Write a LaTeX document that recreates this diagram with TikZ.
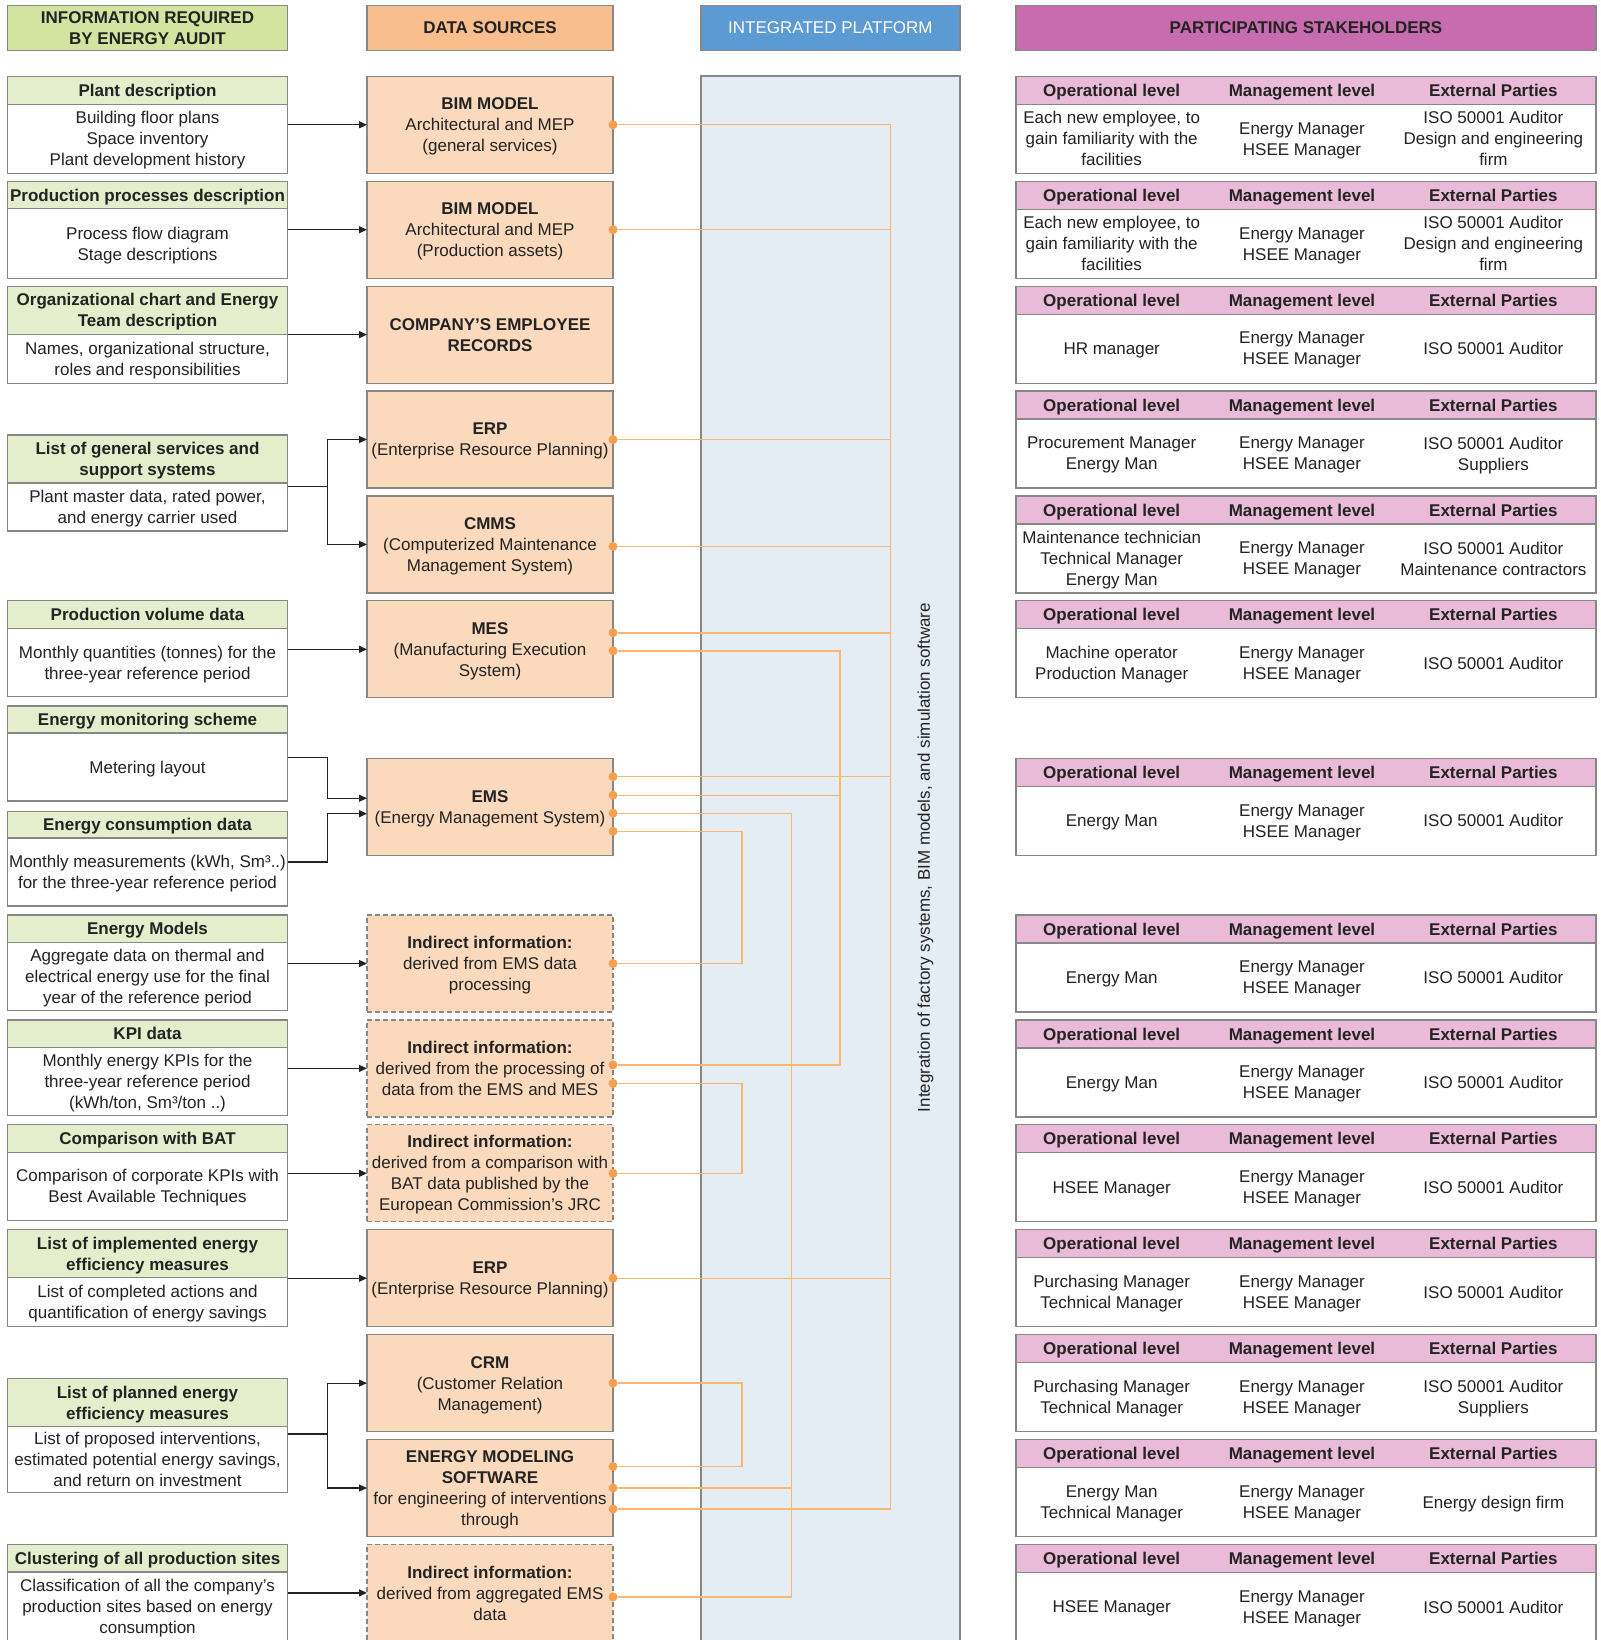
\documentclass[tikz,border=0pt]{standalone}
\usepackage{fontspec}
\setmainfont{Liberation Sans}
\usetikzlibrary{arrows.meta,positioning}

\definecolor{titlegreen}{RGB}{211,228,160}
\definecolor{headgreen}{RGB}{228,238,204}
\definecolor{titleorange}{RGB}{249,190,142}
\definecolor{sourcefill}{RGB}{251,217,188}
\definecolor{titleblue}{RGB}{92,154,212}
\definecolor{panelblue}{RGB}{228,236,244}
\definecolor{titlepink}{RGB}{200,108,176}
\definecolor{headpink}{RGB}{234,187,216}
\definecolor{boxline}{RGB}{135,135,135}
\definecolor{wire}{RGB}{248,182,112}
\definecolor{wiredot}{RGB}{245,160,80}
\definecolor{ink}{RGB}{35,35,35}

\begin{document}
\begin{tikzpicture}[
      x=1pt, y=-1pt,
      node font=\fontsize{17}{21}\selectfont,
      >={Triangle[length=8pt,width=7pt]},
      every node/.style={text=ink, inner sep=0pt, outer sep=0pt},
      flat/.style={text depth=-1.5pt},
      titlebox/.style={flat, draw=boxline, line width=1.2pt, font=\bfseries, align=center, minimum height=45},
      infohead/.style={flat, draw=boxline, line width=1.2pt, fill=headgreen, font=\bfseries, align=center, minimum width=280, anchor=north},
      infobody/.style={flat, draw=boxline, line width=1.2pt, fill=white, align=center, minimum width=280},
      source/.style={flat, draw=boxline, line width=1.2pt, fill=sourcefill, align=center, minimum width=246, minimum height=97},
      indirect/.style={source, dash pattern=on 5pt off 3pt},
      stakebox/.style={draw=boxline, line width=1.2pt, fill=white, minimum width=580, minimum height=97, anchor=north},
      stakehead/.style={draw=boxline, line width=1.2pt, fill=headpink, minimum width=580, minimum height=28, anchor=north},
      colhead/.style={flat, font=\bfseries},
      cell/.style={flat, align=center},
      joint/.style={circle, fill=wiredot, minimum size=9},
      feed/.style={->, line width=1.2pt, draw=ink},
      link/.style={draw=wire, line width=1.4pt},
    ]

    \useasboundingbox (0,0) rectangle (1600,1640);

    \node[titlebox, fill=titlegreen, minimum width=280] (infotitle) at (147.5,27.7) {INFORMATION REQUIRED\\BY ENERGY AUDIT};
    \node[titlebox, fill=titleorange, minimum width=246] (srctitle) at (490,27.7) {DATA SOURCES};
    \node[titlebox, fill=titleblue, minimum width=259, text=white, font=\mdseries] (plattitle) at (830.4,27.7) {INTEGRATED PLATFORM};
    \node[titlebox, fill=titlepink, minimum width=580] (staketitle) at (1306,27.7) {PARTICIPATING STAKEHOLDERS};

    \node[draw=boxline, line width=1.6pt, fill=panelblue, minimum width=259, minimum height=1600, anchor=north] (panel) at (830.4,76.3) {};
    \node[rotate=90] (platlabel) at (925.5,857.5) {Integration of factory systems, BIM models, and simulation software};

    \node[infohead, minimum height=28] (plant) at (147.5,76.3) {Plant description};
    \node[infobody, minimum height=69, below=0pt of plant] (plantbody) {Building floor plans\\Space inventory\\Plant development history};
    \node[infohead, minimum height=27.5] (process) at (147.5,181.2) {Production processes description};
    \node[infobody, minimum height=69.5, below=0pt of process] (processbody) {Process flow diagram\\Stage descriptions};
    \node[infohead, minimum height=48] (org) at (147.5,286.1) {Organizational chart and Energy\\Team description};
    \node[infobody, minimum height=49, below=0pt of org] (orgbody) {Names, organizational structure,\\roles and responsibilities};
    \node[infohead, minimum height=48] (services) at (147.5,435) {List of general services and\\support systems};
    \node[infobody, minimum height=48, below=0pt of services] (servicesbody) {Plant master data, rated power,\\and energy carrier used};
    \node[infohead, minimum height=28] (volume) at (147.5,600.8) {Production volume data};
    \node[infobody, minimum height=68, below=0pt of volume] (volumebody) {Monthly quantities (tonnes) for the\\three-year reference period};
    \node[infohead, minimum height=27] (monitor) at (147.5,706) {Energy monitoring scheme};
    \node[infobody, minimum height=68, below=0pt of monitor] (monitorbody) {Metering layout};
    \node[infohead, minimum height=26.5] (consumption) at (147.5,811.5) {Energy consumption data};
    \node[infobody, minimum height=68, below=0pt of consumption] (consumptionbody) {Monthly measurements (kWh, Sm³..)\\for the three-year reference period};
    \node[infohead, minimum height=27.5] (models) at (147.5,915) {Energy Models};
    \node[infobody, minimum height=68, below=0pt of models] (modelsbody) {Aggregate data on thermal and\\electrical energy use for the final\\year of the reference period};
    \node[infohead, minimum height=27.5] (kpi) at (147.5,1019.9) {KPI data};
    \node[infobody, minimum height=68, below=0pt of kpi] (kpibody) {Monthly energy KPIs for the\\three-year reference period\\(kWh/ton, Sm³/ton ..)};
    \node[infohead, minimum height=27.5] (bat) at (147.5,1124.8) {Comparison with BAT};
    \node[infobody, minimum height=68, below=0pt of bat] (batbody) {Comparison of corporate KPIs with\\Best Available Techniques};
    \node[infohead, minimum height=47.5] (implemented) at (147.5,1229.7) {List of implemented energy\\efficiency measures};
    \node[infobody, minimum height=49, below=0pt of implemented] (implementedbody) {List of completed actions and\\quantification of energy savings};
    \node[infohead, minimum height=48] (planned) at (147.5,1378.4) {List of planned energy\\efficiency measures};
    \node[infobody, minimum height=66, below=0pt of planned] (plannedbody) {List of proposed interventions,\\estimated potential energy savings,\\and return on investment};
    \node[infohead, minimum height=27.5] (cluster) at (147.5,1544.4) {Clustering of all production sites};
    \node[infobody, minimum height=69.5, below=0pt of cluster] (clusterbody) {Classification of all the company's\\production sites based on energy\\consumption};

    \node[source] (bim1) at (490,124.8) {{\bfseries BIM MODEL}\\Architectural and MEP\\(general services)};
    \node[source] (bim2) at (490,229.7) {{\bfseries BIM MODEL}\\Architectural and MEP\\(Production assets)};
    \node[source] (staff) at (490,334.6) {{\bfseries COMPANY'S EMPLOYEE}\\{\bfseries RECORDS}};
    \node[source] (erp1) at (490,439.5) {{\bfseries ERP}\\(Enterprise Resource Planning)};
    \node[source] (cmms) at (490,544.4) {{\bfseries CMMS}\\(Computerized Maintenance\\Management System)};
    \node[source] (mes) at (490,649.3) {{\bfseries MES}\\(Manufacturing Execution\\System)};
    \node[source] (ems) at (490,806.7) {{\bfseries EMS}\\(Energy Management System)};
    \node[indirect] (ind1) at (490,963.5) {{\bfseries Indirect information:}\\derived from EMS data\\processing};
    \node[indirect] (ind2) at (490,1068.4) {{\bfseries Indirect information:}\\derived from the processing of\\data from the EMS and MES};
    \node[indirect] (ind3) at (490,1173.3) {{\bfseries Indirect information:}\\derived from a comparison with\\BAT data published by the\\European Commission's JRC};
    \node[source] (erp2) at (490,1278.2) {{\bfseries ERP}\\(Enterprise Resource Planning)};
    \node[source] (crm) at (490,1383.1) {{\bfseries CRM}\\(Customer Relation\\Management)};
    \node[source] (emsw) at (490,1488) {{\bfseries ENERGY MODELING}\\{\bfseries SOFTWARE}\\for engineering of interventions\\through};
    \node[indirect] (ind4) at (490,1592.9) {{\bfseries Indirect information:}\\derived from aggregated EMS\\data};

    \foreach \ty/\op/\ext [count=\i] in {
        76.3/{Each new employee, to\\gain familiarity with the\\facilities}/{ISO 50001 Auditor\\Design and engineering\\firm},
        181.2/{Each new employee, to\\gain familiarity with the\\facilities}/{ISO 50001 Auditor\\Design and engineering\\firm},
        286.1/{HR manager}/{ISO 50001 Auditor},
        391/{Procurement Manager\\Energy Man}/{ISO 50001 Auditor\\Suppliers},
        495.9/{Maintenance technician\\Technical Manager\\Energy Man}/{ISO 50001 Auditor\\Maintenance contractors},
        600.8/{Machine operator\\Production Manager}/{ISO 50001 Auditor},
        758.2/{Energy Man}/{ISO 50001 Auditor},
        915/{Energy Man}/{ISO 50001 Auditor},
        1019.9/{Energy Man}/{ISO 50001 Auditor},
        1124.8/{HSEE Manager}/{ISO 50001 Auditor},
        1229.7/{Purchasing Manager\\Technical Manager}/{ISO 50001 Auditor},
        1334.6/{Purchasing Manager\\Technical Manager}/{ISO 50001 Auditor\\Suppliers},
        1439.5/{Energy Man\\Technical Manager}/{Energy design firm},
        1544.4/{HSEE Manager}/{ISO 50001 Auditor}}
    {
      \node[stakebox] (stake\i) at (1306,\ty) {};
      \node[stakehead] (stakehead\i) at (stake\i.north) {};
      \node[colhead] (ophead\i) at (1111.7,\ty+14) {Operational level};
      \node[colhead] (mghead\i) at (1302,\ty+14) {Management level};
      \node[colhead] (exhead\i) at (1493.4,\ty+14) {External Parties};
      \node[cell] (op\i) at (1111.7,\ty+62.5) {\op};
      \node[cell] (mg\i) at (1302,\ty+62.5) {Energy Manager\\HSEE Manager};
      \node[cell] (ex\i) at (1493.4,\ty+62.5) {\ext};
    }

    \node[joint] (bim1o) at (bim1.east) {};
    \node[joint] (bim2o) at (bim2.east) {};
    \node[joint] (erp1o) at (erp1.east) {};
    \node[joint] (cmmso) at ([yshift=-2pt]cmms.east) {};
    \node[joint] (mesa) at ([yshift=16.5pt]mes.east) {};
    \node[joint] (mesb) at ([yshift=-1.5pt]mes.east) {};
    \node[joint] (emsa) at ([yshift=30pt]ems.east) {};
    \node[joint] (emsb) at ([yshift=11.5pt]ems.east) {};
    \node[joint] (emsc) at ([yshift=-6.5pt]ems.east) {};
    \node[joint] (emsd) at ([yshift=-24.5pt]ems.east) {};
    \node[joint] (ind1o) at (ind1.east) {};
    \node[joint] (ind2a) at ([yshift=3.5pt]ind2.east) {};
    \node[joint] (ind2b) at ([yshift=-15pt]ind2.east) {};
    \node[joint] (ind3o) at (ind3.east) {};
    \node[joint] (erp2o) at (erp2.east) {};
    \node[joint] (crmo) at (crm.east) {};
    \node[joint] (emswa) at ([yshift=21.5pt]emsw.east) {};
    \node[joint] (emswb) at (emsw.east) {};
    \node[joint] (emswc) at ([yshift=-21pt]emsw.east) {};
    \node[joint] (ind4o) at ([yshift=-4pt]ind4.east) {};

    \coordinate (busA) at (890.5,0);
    \coordinate (busB) at (840,0);
    \coordinate (busC) at (791.7,0);
    \coordinate (busD) at (742,0);

    \draw[link] (bim1o) -| (emswc -| busA) -- (emswc);
    \foreach \p in {bim2o,erp1o,cmmso,mesa,emsa,erp2o}
      \draw[link] (\p) -- (\p -| busA);
    \draw[link] (mesb) -| (ind2a -| busB) -- (ind2a);
    \draw[link] (emsb) -- (emsb -| busB);
    \draw[link] (emsc) -| (ind4o -| busC) -- (ind4o);
    \draw[link] (emswb) -- (emswb -| busC);
    \draw[link] (emsd) -| (ind1o -| busD) -- (ind1o);
    \draw[link] (ind2b) -| (ind3o -| busD) -- (ind3o);
    \draw[link] (crmo) -| (emswa -| busD) -- (emswa);

    \draw[feed] (bim1 -| plantbody.east) -- (bim1);
    \draw[feed] (bim2 -| processbody.east) -- (bim2);
    \draw[feed] (staff -| orgbody.east) -- (staff);
    \coordinate (svcj) at (327.3,486.3);
    \draw[feed, -] (svcj -| servicesbody.east) -- (svcj);
    \draw[feed] (svcj) |- (erp1);
    \draw[feed] (svcj) |- (cmms);
    \draw[feed] (mes -| volumebody.east) -- (mes);
    \coordinate (monj) at (327.3,757.5);
    \draw[feed] (monj -| monitorbody.east) -- (monj) |- ([yshift=8.5pt]ems.west);
    \coordinate (conj) at (327.3,862);
    \draw[feed] (conj -| consumptionbody.east) -- (conj) |- ([yshift=-7pt]ems.west);
    \draw[feed] (ind1 -| modelsbody.east) -- (ind1);
    \draw[feed] (ind2 -| kpibody.east) -- (ind2);
    \draw[feed] (ind3 -| batbody.east) -- (ind3);
    \draw[feed] (erp2 -| implementedbody.east) -- (erp2);
    \coordinate (planj) at (327.3,1434);
    \draw[feed, -] (planj -| plannedbody.east) -- (planj);
    \draw[feed] (planj) |- (crm);
    \draw[feed] (planj) |- (emsw);
    \draw[feed] (ind4 -| clusterbody.east) -- (ind4);
  \end{tikzpicture}
\end{document}
